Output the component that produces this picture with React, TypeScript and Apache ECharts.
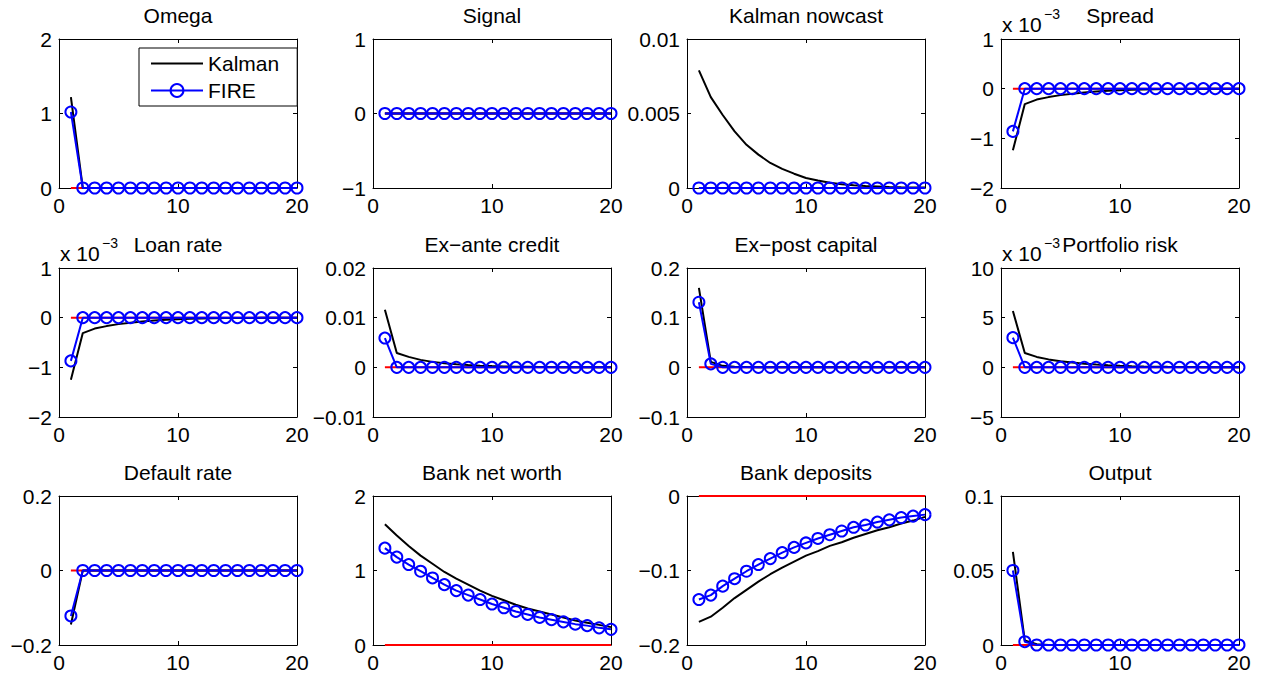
import React, { useEffect, useRef } from "react";
import * as echarts from "echarts";

// ---------- data ----------
const periods = [1, 2, 3, 4, 5, 6, 7, 8, 9, 10, 11, 12, 13, 14, 15, 16, 17, 18, 19, 20];
const steadyState = [0, 0, 0, 0, 0, 0, 0, 0, 0, 0, 0, 0, 0, 0, 0, 0, 0, 0, 0, 0];

const omegaKalman = [1.22, 0, 0, 0, 0, 0, 0, 0, 0, 0, 0, 0, 0, 0, 0, 0, 0, 0, 0, 0];
const omegaFire = [1.02, 0, 0, 0, 0, 0, 0, 0, 0, 0, 0, 0, 0, 0, 0, 0, 0, 0, 0, 0];

const signalKalman = [0, 0, 0, 0, 0, 0, 0, 0, 0, 0, 0, 0, 0, 0, 0, 0, 0, 0, 0, 0];
const signalFire = [0, 0, 0, 0, 0, 0, 0, 0, 0, 0, 0, 0, 0, 0, 0, 0, 0, 0, 0, 0];

const nowcastKalman = [0.0079, 0.0061, 0.0049, 0.0038, 0.0029, 0.00224, 0.00168, 0.00128, 0.00096, 0.00067, 0.0005, 0.00035, 0.00025, 0.00018, 0.00013, 0.0001, 0.00007, 0.00005, 0.00004, 0.00003];
const nowcastFire = [0, 0, 0, 0, 0, 0, 0, 0, 0, 0, 0, 0, 0, 0, 0, 0, 0, 0, 0, 0];

// spread, loan rate and portfolio risk in units of 1e-3
const spreadKalman = [-1.24, -0.31, -0.22, -0.17, -0.13, -0.1, -0.075, -0.055, -0.04, -0.03, -0.022, -0.016, -0.012, -0.009, -0.007, -0.005, -0.004, -0.003, -0.002, -0.002];
const spreadFire = [-0.86, 0, 0, 0, 0, 0, 0, 0, 0, 0, 0, 0, 0, 0, 0, 0, 0, 0, 0, 0];

const loanRateKalman = [-1.25, -0.31, -0.22, -0.17, -0.13, -0.1, -0.075, -0.055, -0.04, -0.03, -0.022, -0.016, -0.012, -0.009, -0.007, -0.005, -0.004, -0.003, -0.002, -0.002];
const loanRateFire = [-0.87, 0, 0, 0, 0, 0, 0, 0, 0, 0, 0, 0, 0, 0, 0, 0, 0, 0, 0, 0];

const creditKalman = [0.0116, 0.0029, 0.0021, 0.0015, 0.0011, 0.0008, 0.0006, 0.00045, 0.00033, 0.00025, 0.00018, 0.00013, 0.0001, 0.00007, 0.00005, 0.00004, 0.00003, 0.00002, 0.00002, 0.00001];
const creditFire = [0.0059, 0, 0, 0, 0, 0, 0, 0, 0, 0, 0, 0, 0, 0, 0, 0, 0, 0, 0, 0];

const capitalKalman = [0.16, 0.011, 0.003, 0.001, 0.0005, 0.0002, 0.0001, 0, 0, 0, 0, 0, 0, 0, 0, 0, 0, 0, 0, 0];
const capitalFire = [0.131, 0.007, 0, 0, 0, 0, 0, 0, 0, 0, 0, 0, 0, 0, 0, 0, 0, 0, 0, 0];

const riskKalman = [5.67, 1.44, 1.05, 0.8, 0.62, 0.48, 0.37, 0.28, 0.21, 0.16, 0.12, 0.09, 0.07, 0.05, 0.04, 0.03, 0.02, 0.015, 0.011, 0.008];
const riskFire = [2.99, 0, 0, 0, 0, 0, 0, 0, 0, 0, 0, 0, 0, 0, 0, 0, 0, 0, 0, 0];

const defaultKalman = [-0.145, 0, 0, 0, 0, 0, 0, 0, 0, 0, 0, 0, 0, 0, 0, 0, 0, 0, 0, 0];
const defaultFire = [-0.122, 0, 0, 0, 0, 0, 0, 0, 0, 0, 0, 0, 0, 0, 0, 0, 0, 0, 0, 0];

const netWorthKalman = [1.62, 1.47, 1.33, 1.2, 1.09, 0.98, 0.89, 0.81, 0.73, 0.66, 0.6, 0.54, 0.49, 0.45, 0.41, 0.37, 0.33, 0.3, 0.27, 0.24];
const netWorthFire = [1.3, 1.18, 1.08, 0.99, 0.9, 0.81, 0.73, 0.67, 0.61, 0.55, 0.5, 0.45, 0.41, 0.37, 0.34, 0.31, 0.28, 0.26, 0.23, 0.21];

const depositsKalman = [-0.169, -0.162, -0.15, -0.137, -0.126, -0.115, -0.105, -0.096, -0.088, -0.08, -0.074, -0.067, -0.062, -0.056, -0.051, -0.046, -0.042, -0.037, -0.033, -0.028];
const depositsFire = [-0.139, -0.133, -0.121, -0.111, -0.101, -0.092, -0.084, -0.076, -0.069, -0.063, -0.057, -0.052, -0.047, -0.042, -0.039, -0.035, -0.032, -0.029, -0.027, -0.025];

const outputKalman = [0.0625, 0.003, 0.0005, 0, 0, 0, 0, 0, 0, 0, 0, 0, 0, 0, 0, 0, 0, 0, 0, 0];
const outputFire = [0.05, 0.0022, 0, 0, 0, 0, 0, 0, 0, 0, 0, 0, 0, 0, 0, 0, 0, 0, 0, 0];

const titles = [
  "Omega", "Signal", "Kalman nowcast", "Spread",
  "Loan rate", "Ex\u2212ante credit", "Ex\u2212post capital", "Portfolio risk",
  "Default rate", "Bank net worth", "Bank deposits", "Output",
];
const kalmanSeries = [
  omegaKalman, signalKalman, nowcastKalman, spreadKalman,
  loanRateKalman, creditKalman, capitalKalman, riskKalman,
  defaultKalman, netWorthKalman, depositsKalman, outputKalman,
];
const fireSeries = [
  omegaFire, signalFire, nowcastFire, spreadFire,
  loanRateFire, creditFire, capitalFire, riskFire,
  defaultFire, netWorthFire, depositsFire, outputFire,
];
// y-axis ranges [min, max, interval]
const yRanges = [
  [0, 2, 1], [-1, 1, 1], [0, 0.01, 0.005], [-2, 1, 1],
  [-2, 1, 1], [-0.01, 0.02, 0.01], [-0.1, 0.2, 0.1], [-5, 10, 5],
  [-0.2, 0.2, 0.2], [0, 2, 1], [-0.2, 0, 0.1], [0, 0.1, 0.05],
];
const scaledPanels = [3, 4, 7]; // panels shown in units of 1e-3
const xTicks = [0, 20, 10];

// ---------- layout ----------
const FONT = "'Liberation Sans', Arial, Helvetica, sans-serif";
const gridLefts = [59, 373, 687, 1001];
const gridTops = [39, 268, 496];
const gridW = 238;
const gridH = 149;

function fmt(v: number) {
  const s = String(parseFloat(v.toPrecision(6)));
  return s.replace("-", "\u2212");
}

export default function App() {
  const ref = useRef<HTMLDivElement>(null);
  useEffect(() => {
    if (!ref.current) return;
    const chart = echarts.init(ref.current, null, { renderer: "svg" });

    const grids: any[] = [];
    const xAxes: any[] = [];
    const yAxes: any[] = [];
    const series: any[] = [];
    const titleArr: any[] = [];
    const graphics: any[] = [];

    const axisLine = { show: true, onZero: false, lineStyle: { color: "#000", width: 1 } };
    const axisTick = { show: true, inside: true, length: 4, lineStyle: { color: "#000", width: 1 } };
    const labelStyle = { color: "#000", fontSize: 21, fontFamily: FONT };

    for (let i = 0; i < 12; i++) {
      const r = Math.floor(i / 4);
      const c = i % 4;
      const left = gridLefts[c];
      const top = gridTops[r];
      grids.push({ left, top, width: gridW, height: gridH, containLabel: false });
      const [ymin, ymax, yint] = yRanges[i];
      xAxes.push({
        type: "value", gridIndex: i, position: "bottom",
        min: xTicks[0], max: xTicks[1], interval: xTicks[2],
        axisLine, axisTick, splitLine: { show: false },
        axisLabel: { ...labelStyle, margin: 7, formatter: (v: number) => fmt(v) },
      });
      xAxes.push({
        type: "value", gridIndex: i, position: "top",
        min: xTicks[0], max: xTicks[1], interval: xTicks[2],
        axisLine, axisTick, splitLine: { show: false }, axisLabel: { show: false },
      });
      yAxes.push({
        type: "value", gridIndex: i, position: "left",
        min: ymin, max: ymax, interval: yint,
        axisLine, axisTick, splitLine: { show: false },
        axisLabel: { ...labelStyle, margin: 7, formatter: (v: number) => fmt(v) },
      });
      yAxes.push({
        type: "value", gridIndex: i, position: "right",
        min: ymin, max: ymax, interval: yint,
        axisLine, axisTick, splitLine: { show: false }, axisLabel: { show: false },
      });

      titleArr.push({
        text: titles[i],
        left: left + gridW / 2,
        top: top - 34,
        textAlign: "center",
        padding: 0,
        textStyle: { color: "#000", fontSize: 21, fontWeight: "normal", fontFamily: FONT },
      });

      const xi = 2 * i;
      const yi = 2 * i;
      series.push({
        name: "steady", type: "line", xAxisIndex: xi, yAxisIndex: yi,
        data: periods.map((p, k) => [p, steadyState[k]]),
        symbol: "none", silent: true, clip: false,
        lineStyle: { color: "#ff0000", width: 2 }, itemStyle: { color: "#ff0000" },
      });
      series.push({
        name: "Kalman", type: "line", xAxisIndex: xi, yAxisIndex: yi,
        data: periods.map((p, k) => [p, kalmanSeries[i][k]]),
        symbol: "circle", showSymbol: false, clip: false,
        lineStyle: { color: "#000", width: 2 },
        itemStyle: { color: "rgba(0,0,0,0)", borderWidth: 0 },
      });
      series.push({
        name: "FIRE", type: "line", xAxisIndex: xi, yAxisIndex: yi,
        data: periods.map((p, k) => [p, fireSeries[i][k]]),
        symbol: "circle", symbolSize: 11, showAllSymbol: true, clip: false,
        lineStyle: { color: "#0000ff", width: 2 },
        itemStyle: { color: "rgba(0,0,0,0)", borderColor: "#0000ff", borderWidth: 2 },
      });

      if (scaledPanels.includes(i)) {
        graphics.push({
          type: "text", x: left + 1, y: top - 15,
          style: { text: "x 10", font: `21px ${FONT}`, fill: "#000", textVerticalAlign: "middle" },
        });
        graphics.push({
          type: "text", x: left + 43, y: top - 25,
          style: { text: "\u22123", font: `14px ${FONT}`, fill: "#000", textVerticalAlign: "middle" },
        });
      }
    }

    chart.setOption({
      animation: false,
      backgroundColor: "#fff",
      title: titleArr,
      grid: grids,
      xAxis: xAxes,
      yAxis: yAxes,
      series,
      graphic: graphics,
      legend: {
        data: ["Kalman", "FIRE"],
        orient: "vertical",
        left: 139, top: 48,
        itemWidth: 52, itemHeight: 16, itemGap: 6,
        padding: [5, 18, 5, 11],
        borderColor: "#000", borderWidth: 1, backgroundColor: "#fff",
        textStyle: { color: "#000", fontSize: 21, fontFamily: FONT, lineHeight: 21 },
      },
    });
    return () => chart.dispose();
  }, []);
  return (
    <div
      ref={ref}
      style={{ position: "absolute", left: 0, top: 0, width: 1265, height: 676, background: "#fff" }}
    />
  );
}
